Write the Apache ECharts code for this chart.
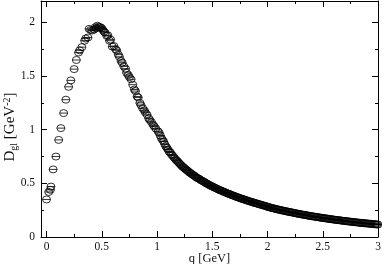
<!DOCTYPE html>
<html><head><meta charset="utf-8">
<script src="https://cdn.jsdelivr.net/npm/echarts@6/dist/echarts.min.js"></script>
<style>html,body{margin:0;padding:0;background:#fff}#c{width:382px;height:264px}</style>
</head><body><div id="c"></div>
<script>
// momentum q [GeV], low-momentum region
const qLow = [0.000,0.020,0.035,0.040,0.060,0.085,0.110,0.130,0.155,0.175,0.200,0.220,0.250,0.270,0.290,0.300,0.320,0.345,0.355,0.375,0.385,0.400,0.415,0.430,0.440,0.450,0.460,0.470,0.480,0.490,0.500,0.510,0.520,0.530,0.545,0.555,0.570,0.580,0.595,0.610,0.625,0.635,0.650,0.660,0.675,0.685,0.700,0.715,0.725,0.740,0.750,0.765,0.780,0.795,0.805,0.820,0.830,0.845,0.855,0.870,0.885,0.895,0.910,0.925,0.935,0.950,0.965,0.975,0.990];
// gluon propagator D_gl [GeV^-2], low-momentum region
const dLow = [0.35,0.42,0.44,0.47,0.63,0.75,0.905,1.015,1.155,1.28,1.40,1.46,1.565,1.65,1.72,1.74,1.77,1.83,1.85,1.86,1.94,1.93,1.925,1.935,1.955,1.945,1.97,1.96,1.955,1.955,1.945,1.93,1.915,1.905,1.875,1.88,1.83,1.84,1.775,1.78,1.75,1.74,1.70,1.68,1.64,1.625,1.59,1.57,1.53,1.51,1.49,1.47,1.42,1.375,1.36,1.31,1.30,1.25,1.23,1.20,1.18,1.16,1.14,1.105,1.09,1.07,1.045,1.03,1.01];
// momentum q [GeV], high-momentum region
const qHigh = [1.01,1.03,1.05,1.07,1.09,1.11,1.13,1.15,1.17,1.19,1.21,1.23,1.25,1.27,1.29,1.31,1.33,1.35,1.37,1.39,1.41,1.43,1.45,1.47,1.49,1.51,1.53,1.55,1.57,1.59,1.61,1.63,1.65,1.67,1.69,1.71,1.73,1.75,1.77,1.79,1.81,1.83,1.85,1.87,1.89,1.91,1.93,1.95,1.97,1.99,2.01,2.03,2.05,2.07,2.09,2.11,2.13,2.15,2.17,2.19,2.21,2.23,2.25,2.27,2.29,2.31,2.33,2.35,2.37,2.39,2.41,2.43,2.45,2.47,2.49,2.51,2.53,2.55,2.57,2.59,2.61,2.63,2.65,2.67,2.69,2.71,2.73,2.75,2.77,2.79,2.81,2.83,2.85,2.87,2.89,2.91,2.93,2.95,2.97,2.99];
// gluon propagator D_gl [GeV^-2], high-momentum region
const dHigh = [0.985,0.945,0.905,0.865,0.83,0.795,0.77,0.745,0.72,0.70,0.678,0.655,0.64,0.622,0.605,0.59,0.575,0.56,0.548,0.535,0.523,0.512,0.498,0.487,0.476,0.466,0.456,0.446,0.437,0.428,0.419,0.41,0.402,0.394,0.386,0.378,0.37,0.363,0.356,0.349,0.342,0.335,0.329,0.322,0.316,0.31,0.304,0.298,0.292,0.286,0.279,0.273,0.268,0.263,0.258,0.253,0.248,0.244,0.239,0.235,0.231,0.227,0.222,0.218,0.214,0.21,0.207,0.203,0.199,0.196,0.192,0.189,0.186,0.182,0.179,0.176,0.173,0.17,0.167,0.164,0.161,0.158,0.156,0.153,0.15,0.148,0.145,0.143,0.14,0.138,0.136,0.133,0.131,0.129,0.127,0.125,0.123,0.121,0.119,0.117];
// second, interleaved set of high-momentum points
const qHigh2 = [1.02,1.04,1.06,1.08,1.10,1.12,1.14,1.16,1.18,1.20,1.22,1.24,1.26,1.28,1.30,1.32,1.34,1.36,1.38,1.40,1.42,1.44,1.46,1.48,1.50,1.52,1.54,1.56,1.58,1.60,1.62,1.64,1.66,1.68,1.70,1.72,1.74,1.76,1.78,1.80,1.82,1.84,1.86,1.88,1.90,1.92,1.94,1.96,1.98,2.00,2.02,2.04,2.06,2.08,2.10,2.12,2.14,2.16,2.18,2.20,2.22,2.24,2.26,2.28,2.30,2.32,2.34,2.36,2.38,2.40,2.42,2.44,2.46,2.48,2.50,2.52,2.54,2.56,2.58,2.60,2.62,2.64,2.66,2.68,2.70,2.72,2.74,2.76,2.78,2.80,2.82,2.84,2.86,2.88,2.90,2.92,2.94,2.96,2.98,3.00];
const dHigh2 = [0.97,0.92,0.89,0.845,0.815,0.79,0.76,0.735,0.712,0.69,0.668,0.65,0.63,0.615,0.598,0.583,0.57,0.552,0.543,0.528,0.518,0.504,0.494,0.48,0.472,0.46,0.452,0.44,0.433,0.422,0.416,0.405,0.399,0.389,0.383,0.373,0.368,0.358,0.353,0.344,0.34,0.331,0.327,0.318,0.314,0.306,0.302,0.294,0.29,0.281,0.277,0.27,0.266,0.259,0.256,0.25,0.247,0.241,0.238,0.232,0.23,0.224,0.221,0.215,0.213,0.208,0.206,0.2,0.198,0.193,0.191,0.187,0.185,0.18,0.178,0.174,0.172,0.168,0.166,0.162,0.16,0.157,0.155,0.151,0.15,0.146,0.145,0.141,0.14,0.137,0.135,0.132,0.131,0.128,0.127,0.124,0.123,0.12,0.119,0.116];

const xMajorTicks = [0,0.5,1,1.5,2,2.5,3];
const xMinorTicks = [0.25,0.75,1.25,1.75,2.25,2.75];
const yMajorTicks = [0,0.5,1,1.5,2];
const yMinorTicks = [0.25,0.75,1.25,1.75];
const xName = 'q [GeV]';
const yNameParts = ['D', 'gl', ' [GeV', '-2', ']'];

const pts = [];
qLow.forEach((q, i) => pts.push([q, dLow[i]]));
qHigh.forEach((q, i) => pts.push([q, dHigh[i]]));
qHigh2.forEach((q, i) => pts.push([q, dHigh2[i]]));

const XMIN = -0.05, XMAX = 3, YMIN = 0, YMAX = 2.2;
const lbl = {fontFamily: 'Liberation Serif', fontSize: 11.5, color: '#111'};
const lineStyle = {color: '#000', width: 1};

function xAx(pos, ticks, len, labels, showLine, extra) {
  return Object.assign({
    type: 'value', position: pos, min: XMIN, max: XMAX,
    splitLine: {show: false},
    axisLine: {show: showLine, onZero: false, lineStyle},
    axisTick: {show: true, inside: true, length: len, customValues: ticks, lineStyle},
    axisLabel: labels ? Object.assign({customValues: ticks, margin: 4}, lbl) : {show: false}
  }, extra || {});
}
function yAx(pos, ticks, len, labels, showLine, extra) {
  return Object.assign({
    type: 'value', position: pos, min: YMIN, max: YMAX,
    splitLine: {show: false},
    axisLine: {show: showLine, onZero: false, lineStyle},
    axisTick: {show: true, inside: true, length: len, customValues: ticks, lineStyle},
    axisLabel: labels ? Object.assign({customValues: ticks, margin: 6}, lbl) : {show: false}
  }, extra || {});
}

const chart = echarts.init(document.getElementById('c'), null, {renderer: 'canvas'});
chart.setOption({
  animation: false,
  backgroundColor: '#fff',
  grid: {left: 41, right: 4, top: 1, bottom: 27, containLabel: false, outerBoundsMode: 'none'},
  xAxis: [
    xAx('bottom', xMajorTicks, 6, true, true, {
      name: xName, nameLocation: 'middle', nameGap: 15, nameMoveOverlap: false,
      nameTextStyle: {fontFamily: 'Liberation Serif', fontSize: 12.5, color: '#111'}
    }),
    xAx('bottom', xMinorTicks, 3, false, false),
    xAx('top', xMajorTicks, 6, false, true),
    xAx('top', xMinorTicks, 3, false, false)
  ],
  yAxis: [
    yAx('left', yMajorTicks, 6, true, true, {
      name: '{n|' + yNameParts[0] + '}{sub|' + yNameParts[1] + '}{n|' + yNameParts[2] + '}{sup|' + yNameParts[3] + '}{n|' + yNameParts[4] + '}',
      nameLocation: 'middle', nameGap: 22, nameMoveOverlap: false,
      nameTextStyle: {
        fontFamily: 'Liberation Serif', fontSize: 15, color: '#111',
        padding: [0, 16, 0, 0],
        rich: {
          n: {fontFamily: 'Liberation Serif', fontSize: 15, color: '#111', lineHeight: 17, verticalAlign: 'middle'},
          sub: {fontFamily: 'Liberation Serif', fontSize: 10, color: '#111', lineHeight: 17, verticalAlign: 'bottom'},
          sup: {fontFamily: 'Liberation Serif', fontSize: 10, color: '#111', lineHeight: 17, verticalAlign: 'top'}
        }
      }
    }),
    yAx('left', yMinorTicks, 3, false, false),
    yAx('right', yMajorTicks, 6, false, true),
    yAx('right', yMinorTicks, 3, false, false)
  ],
  series: [{
    type: 'scatter',
    xAxisIndex: 0, yAxisIndex: 0,
    data: pts,
    symbol: 'path://M0,-10 A10,10 0 1,1 0,10 A10,10 0 1,1 0,-10 Z M-10,0 L10,0',
    symbolSize: [8, 7],
    itemStyle: {color: 'rgba(0,0,0,0)', borderColor: '#000', borderWidth: 0.8, opacity: 1},
    emphasis: {disabled: true}
  }]
});
</script></body></html>
